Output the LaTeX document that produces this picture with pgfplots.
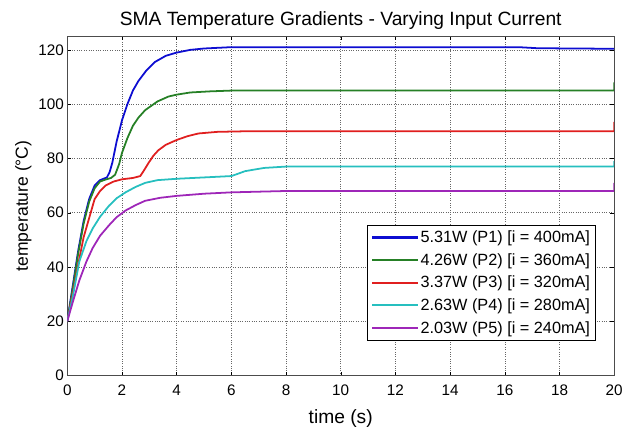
\documentclass[border=0pt]{standalone}
\usepackage{pgfplots}
\pgfplotsset{compat=1.18}
\usepackage{fontspec}
\setmainfont{Liberation Sans}
\definecolor{cP1}{rgb}{0.05,0.05,0.82}
\definecolor{cP2}{rgb}{0.15,0.5,0.15}
\definecolor{cP3}{rgb}{0.88,0.12,0.12}
\definecolor{cP4}{rgb}{0.15,0.75,0.75}
\definecolor{cP5}{rgb}{0.62,0.15,0.72}
\begin{document}
\begin{tikzpicture}
\begin{axis}[
  scale only axis,
  width=553bp, height=343bp,
  xmin=0, xmax=20, ymin=0, ymax=125,
  xtick={0,2,...,20}, ytick={0,20,...,120},
  tick align=inside,
  tick style={black, thin},
  major tick length=4bp,
  grid=major,
  grid style={black!60, dotted, line width=0.6pt},
  axis line style={black!70, line width=0.6pt},
  /pgf/number format/assume math mode=true,
  tick label style={font=\fontsize{15.5}{17}\selectfont},
  xticklabel style={yshift=-6bp},
  xlabel={time (s)}, ylabel={temperature (°C)},
  xlabel style={font=\fontsize{19.5}{21}\selectfont, yshift=-7bp},
  ylabel style={font=\fontsize{17.8}{20}\selectfont, yshift=0bp},
  title={SMA Temperature Gradients - Varying Input Current},
  title style={font=\fontsize{19.5}{21}\selectfont, yshift=-3bp},
  legend style={at={(0.966,0.104)}, anchor=south east, draw=black,
    font=\fontsize{16.5}{19}\selectfont, inner sep=3.5bp, row sep=5.5bp, cells={anchor=west}},
  legend image code/.code={\draw[#1, line width=2.2pt] (0bp,0bp) -- (46bp,0bp);},
]
\addplot[cP1, line width=1.8pt] coordinates {(0,20)(0.2,33)(0.4,46)(0.6,57)(0.8,65)(1.0,70)(1.2,72)(1.45,73)(1.55,75)(1.65,78.5)(1.8,86)(2.0,94)(2.2,100)(2.4,105)(2.6,108.5)(2.9,112.5)(3.2,115.5)(3.6,117.8)(4,119)(4.5,120)(5,120.5)(6,121)(8,121)(12,121)(16.5,121)(17.2,120.6)(20,120.4)};
\addlegendentry{5.31W (P1) [i = 400mA]}
\addplot[cP2, line width=1.8pt] coordinates {(0,20)(0.2,32)(0.4,45)(0.6,56)(0.8,64)(1.0,69)(1.2,71.5)(1.4,72.2)(1.6,72.8)(1.75,74)(1.9,78)(2.0,82)(2.2,87.5)(2.4,92)(2.6,95)(2.85,97.8)(3.3,101)(3.7,102.8)(4,103.5)(4.5,104.3)(5.2,104.7)(6,105)(10,105)(19.9,105)(20,105)(20,108)};
\addlegendentry{4.26W (P2) [i = 360mA]}
\addplot[cP3, line width=1.8pt] coordinates {(0,20)(0.2,30)(0.4,41)(0.6,51)(0.8,58)(1.0,65)(1.2,68)(1.4,70)(1.7,71.5)(2.0,72.3)(2.4,72.8)(2.67,73.5)(2.8,75.5)(2.97,78.3)(3.15,81)(3.33,83)(3.6,85)(4,86.8)(4.4,88.2)(4.8,89.2)(5.5,89.8)(6.5,90)(10,90)(20,90)(20,93.5)};
\addlegendentry{3.37W (P3) [i = 320mA]}
\addplot[cP4, line width=1.8pt] coordinates {(0,20)(0.2,29)(0.44,42)(0.7,49.5)(0.93,54.2)(1.2,58.5)(1.53,62.6)(1.8,65.3)(2.13,67.5)(2.5,69.5)(2.85,71)(3.3,72)(4,72.5)(5,73)(6,73.5)(6.2,74.2)(6.5,75.3)(6.9,76)(7.2,76.5)(8,77)(12,77)(20,77)(20,79)};
\addlegendentry{2.63W (P4) [i = 280mA]}
\addplot[cP5, line width=1.8pt] coordinates {(0,20)(0.2,27)(0.44,35)(0.7,42)(0.93,47)(1.2,51.5)(1.53,55.4)(1.8,58.3)(2.13,60.8)(2.5,62.8)(2.85,64.4)(3.4,65.5)(4,66.2)(5,67)(6,67.5)(8,68)(20,68)(20,71)};
\addlegendentry{2.03W (P5) [i = 240mA]}
\end{axis}
\path ([xshift=-68bp,yshift=-52.7bp]current axis.south west) rectangle ([xshift=5bp,yshift=36.7bp]current axis.north east);
\end{tikzpicture}
\end{document}
